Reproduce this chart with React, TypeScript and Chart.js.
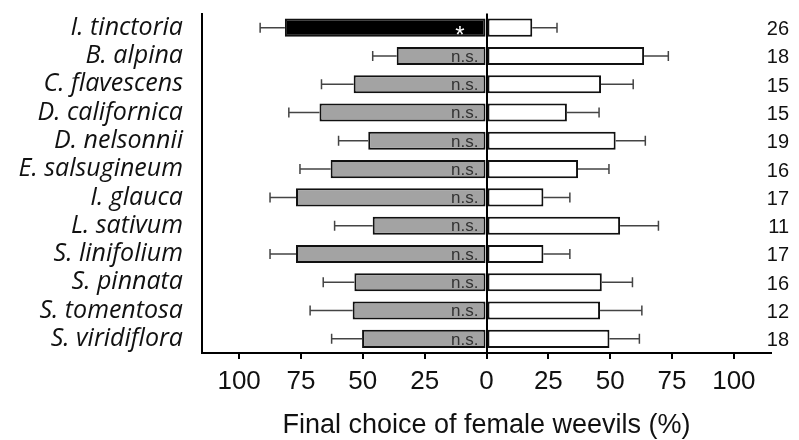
import React, { useEffect, useRef } from "react";
import { Chart, registerables } from "chart.js";

Chart.register(...registerables);

// Plant species tested
const species = [
  "I. tinctoria",
  "B. alpina",
  "C. flavescens",
  "D. californica",
  "D. nelsonnii",
  "E. salsugineum",
  "I. glauca",
  "L. sativum",
  "S. linifolium",
  "S. pinnata",
  "S. tomentosa",
  "S. viridiflora",
];

// Share of females choosing the test plant (left side, %)
const testChoice = [81.5, 36.3, 53.7, 67.5, 47.8, 63, 77, 46, 77, 53.4, 54.1, 50.3];
const testErr = [10, 9.7, 13, 12.4, 12, 12.4, 10.5, 15.4, 10.5, 12.6, 17.2, 12.3];

// Share of females choosing the control (right side, %)
const controlChoice = [18.5, 63.7, 46.3, 32.5, 52.2, 37, 23, 54, 23, 46.6, 45.9, 49.7];
const controlErr = [10, 9.8, 13, 13, 12, 12.5, 10.7, 15.5, 10.7, 12.4, 16.9, 12.1];

// Number of females tested and significance
const sampleSize = [26, 18, 15, 15, 19, 16, 17, 11, 17, 16, 12, 18];
const significance = ["*", "n.s.", "n.s.", "n.s.", "n.s.", "n.s.", "n.s.", "n.s.", "n.s.", "n.s.", "n.s.", "n.s."];

const xTicks = [-100, -75, -50, -25, 0, 25, 50, 75, 100];

const GRAY = "#a3a3a3";
const EDGE = "#111111";

const errorBarPlugin = {
  id: "errorBars",
  afterDatasetsDraw(chart: any) {
    const ctx = chart.ctx;
    const xs = chart.scales.x;
    const errs = [testErr, controlErr];
    ctx.save();
    ctx.strokeStyle = "#444";
    ctx.lineWidth = 1.5;
    chart.data.datasets.forEach((ds: any, di: number) => {
      const meta = chart.getDatasetMeta(di);
      meta.data.forEach((bar: any, i: number) => {
        const v = ds.data[i];
        const e = errs[di][i];
        const end = xs.getPixelForValue(v);
        const tip = xs.getPixelForValue(v < 0 ? v - e : v + e);
        ctx.beginPath();
        ctx.moveTo(end, bar.y);
        ctx.lineTo(tip, bar.y);
        ctx.moveTo(tip, bar.y - 5);
        ctx.lineTo(tip, bar.y + 5);
        ctx.stroke();
      });
    });
    ctx.restore();
  },
};

const annotationPlugin = {
  id: "rowNotes",
  afterDraw(chart: any) {
    const ctx = chart.ctx;
    const xs = chart.scales.x;
    const zero = xs.getPixelForValue(0);
    const meta = chart.getDatasetMeta(0);
    ctx.save();
    meta.data.forEach((bar: any, i: number) => {
      const mark = significance[i];
      ctx.textAlign = "right";
      if (mark === "*") {
        ctx.fillStyle = "#ffffff";
        ctx.font = "24px 'Liberation Sans', Arial, sans-serif";
        ctx.textBaseline = "alphabetic";
        ctx.fillText(mark, zero - 22, bar.y + 15);
      } else {
        ctx.fillStyle = "#333333";
        ctx.font = "17px 'Liberation Sans', Arial, sans-serif";
        ctx.textBaseline = "middle";
        ctx.fillText(mark, zero - 8, bar.y + 1);
      }
      ctx.fillStyle = "#111111";
      ctx.font = "20px 'Liberation Sans', Arial, sans-serif";
      ctx.textBaseline = "middle";
      ctx.fillText(String(sampleSize[i]), 789, bar.y + 2);
    });
    ctx.restore();
  },
};

export default function App() {
  const canvasRef = useRef<HTMLCanvasElement | null>(null);

  useEffect(() => {
    const canvas = canvasRef.current;
    if (!canvas) return;
    const chart = new Chart(canvas, {
      type: "bar",
      data: {
        labels: species,
        datasets: [
          {
            label: "Test plant",
            data: testChoice.map((v) => -v),
            backgroundColor: significance.map((s) => (s === "*" ? "#000000" : GRAY)),
            borderColor: EDGE,
            borderWidth: 2,
            borderSkipped: false,
            barPercentage: 0.64,
            categoryPercentage: 1,
          },
          {
            label: "Control",
            data: controlChoice,
            backgroundColor: "#ffffff",
            borderColor: EDGE,
            borderWidth: 2,
            borderSkipped: false,
            barPercentage: 0.64,
            categoryPercentage: 1,
          },
        ],
      },
      options: {
        indexAxis: "y",
        animation: false,
        responsive: true,
        maintainAspectRatio: false,
        layout: { padding: { top: 7, right: 28, left: 0, bottom: 0 } },
        plugins: {
          legend: { display: false },
          tooltip: { enabled: false },
        },
        scales: {
          x: {
            stacked: true,
            min: -115,
            max: 115,
            afterBuildTicks: (scale: any) => {
              scale.ticks = xTicks.map((v) => ({ value: v }));
            },
            afterFit: (scale: any) => {
              scale.height = 87;
            },
            grid: {
              display: true,
              drawOnChartArea: true,
              drawTicks: true,
              tickLength: 6,
              tickColor: "#000",
              tickWidth: 2,
              lineWidth: 2,
              color: (c: any) => (c.tick && c.tick.value === 0 ? "#000" : "rgba(0,0,0,0)"),
            },
            border: { display: true, color: "#000", width: 2 },
            ticks: {
              color: "#111",
              font: { family: "'Liberation Sans', Arial, sans-serif", size: 26, lineHeight: 1 },
              padding: 10,
              maxRotation: 0,
              callback: (v: any) => String(Math.abs(Number(v))),
            },
            title: {
              display: true,
              text: "Final choice of female weevils (%)",
              color: "#111",
              font: { family: "'Liberation Sans', Arial, sans-serif", size: 27, lineHeight: 1 },
              padding: { top: 0, bottom: 1 },
            },
          },
          y: {
            stacked: true,
            afterFit: (scale: any) => {
              scale.width = 202;
            },
            grid: { display: false },
            border: { display: true, color: "#000", width: 2 },
            ticks: {
              color: "#111",
              padding: 11,
              autoSkip: false,
              font: { family: "'Open Sans', sans-serif", size: 25, style: "italic", lineHeight: 0.2 },
            },
          },
        },
      },
      plugins: [errorBarPlugin, annotationPlugin],
    });
    return () => chart.destroy();
  }, []);

  return (
    <div style={{ position: "fixed", left: 0, top: 0, width: 799, height: 440, background: "#fff" }}>
      <canvas ref={canvasRef} />
    </div>
  );
}
